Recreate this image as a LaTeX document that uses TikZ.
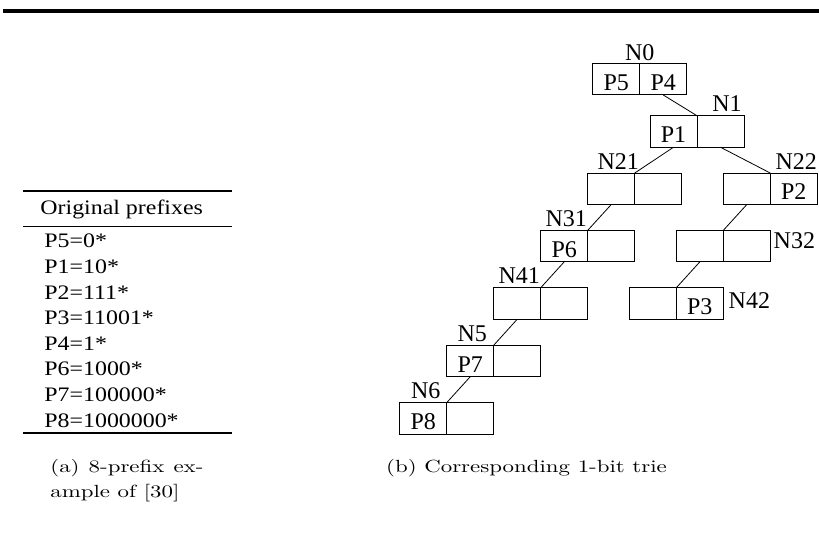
\documentclass[tikz,border=0pt]{standalone}
\usepackage{fontspec}
\setmainfont{Liberation Serif}
\newfontfamily\tabfont[FakeStretch=1.16]{Liberation Serif}
\newfontfamily\capfont[Extension=.otf,FakeStretch=1.3]{lmroman10-regular}
\usetikzlibrary{calc}

\begin{document}
\begin{tikzpicture}[x=0.5pt,y=-0.5pt,
cell/.style={draw,line width=0.5pt,minimum width=23.5pt,minimum height=15.75pt,inner sep=0pt,outer sep=0pt,font=\fontsize{12}{14}\selectfont,text height=11pt,text depth=0pt},
nlab/.style={font=\fontsize{12}{14}\selectfont,inner sep=0pt,anchor=base},
link/.style={line width=0.4pt},
pfx/.style={font=\tabfont\fontsize{10.3}{12}\selectfont,inner sep=0pt,anchor=west,text height=6.8pt,text depth=0pt},
subcap/.style={font=\capfont\fontsize{8.8}{10.5}\selectfont,inner sep=0pt,anchor=base west}]
\useasboundingbox (0,0) rectangle (819,538);
\draw[line width=2pt] (3,11) -- (819,11);

% table of prefixes
\draw[line width=0.65pt] (23,191) -- (232,191);
\draw[line width=0.45pt] (23,226) -- (232,226);
\draw[line width=0.65pt] (23,433) -- (232,433);
\node[pfx] (hd) at (40,208) {Original prefixes};
\foreach \t [count=\i from 0] in {P5=0*,P1=10*,P2=111*,P3=11001*,P4=1*,P6=1000*,P7=100000*,P8=1000000*}
  \node[pfx] (p\i) at (44,{241+25.6*\i}) {\t};

% trie nodes
\node[cell] (n0a) at (616.2,79.2) {P5};
\node[cell] (n0b) at (663.2,79.2) {P4};
\node[cell] (n1a) at (673.5,131.5) {P1};
\node[cell] (n1b) at (720.5,131.5) {};
\node[cell] (n21a) at (611.2,188.8) {};
\node[cell] (n21b) at (658.2,188.8) {};
\node[cell] (n22a) at (746.8,188.8) {};
\node[cell] (n22b) at (793.8,188.8) {P2};
\node[cell] (n31a) at (564.2,246.1) {P6};
\node[cell] (n31b) at (611.2,246.1) {};
\node[cell] (n32a) at (699.8,246.1) {};
\node[cell] (n32b) at (746.8,246.1) {};
\node[cell] (n41a) at (517.2,303.5) {};
\node[cell] (n41b) at (564.2,303.5) {};
\node[cell] (n42a) at (652.8,303.5) {};
\node[cell] (n42b) at (699.8,303.5) {P3};
\node[cell] (n5a) at (470.2,361) {P7};
\node[cell] (n5b) at (517.2,361) {};
\node[cell] (n6a) at (423.2,418.4) {P8};
\node[cell] (n6b) at (470.2,418.4) {};

% node names
\node[nlab] (l0) at ([yshift=1.6pt]n0a.north east) {N0};
\node[nlab] (l1) at ([xshift=3.25pt,yshift=2pt]n1b.north) {N1};
\node[nlab] (l21) at ([xshift=3.5pt,yshift=2pt]n21a.north) {N21};
\node[nlab] (l22) at ([xshift=1.25pt,yshift=2pt]n22b.north) {N22};
\node[nlab] (l31) at ([xshift=1pt,yshift=2pt]n31a.north) {N31};
\node[nlab,anchor=base west] (l32) at ([xshift=1.5pt,yshift=-9pt]n32b.north east) {N32};
\node[nlab] (l41) at ([xshift=1pt,yshift=2pt]n41a.north) {N41};
\node[nlab,anchor=base west] (l42) at ([xshift=2.5pt,yshift=-10.3pt]n42b.north east) {N42};
\node[nlab] (l5) at ([xshift=1pt,yshift=2pt]n5a.north) {N5};
\node[nlab] (l6) at ([xshift=1.25pt,yshift=2pt]n6a.north) {N6};

\draw[link] (n0b.south) -- (n1a.north east);
\draw[link] (n1a.south) -- (n21a.north east);
\draw[link] (n1b.south) -- (n22a.north east);
\draw[link] (n21a.south) -- (n31a.north east);
\draw[link] (n22a.south) -- (n32a.north east);
\draw[link] (n31a.south) -- (n41a.north east);
\draw[link] (n32a.south) -- (n42a.north east);
\draw[link] (n41a.south) -- (n5a.north east);
\draw[link] (n5a.south) -- (n6a.north east);

% captions
\node[subcap] (ca1) at (50,472) {\makebox[76.5pt][s]{(a) 8-prefix ex-}};
\node[subcap] (ca2) at (50,497) {ample of [30]};
\node[subcap,anchor=base] (cb) at (526.5,472) {(b) Corresponding 1-bit trie};
\end{tikzpicture}
\end{document}
